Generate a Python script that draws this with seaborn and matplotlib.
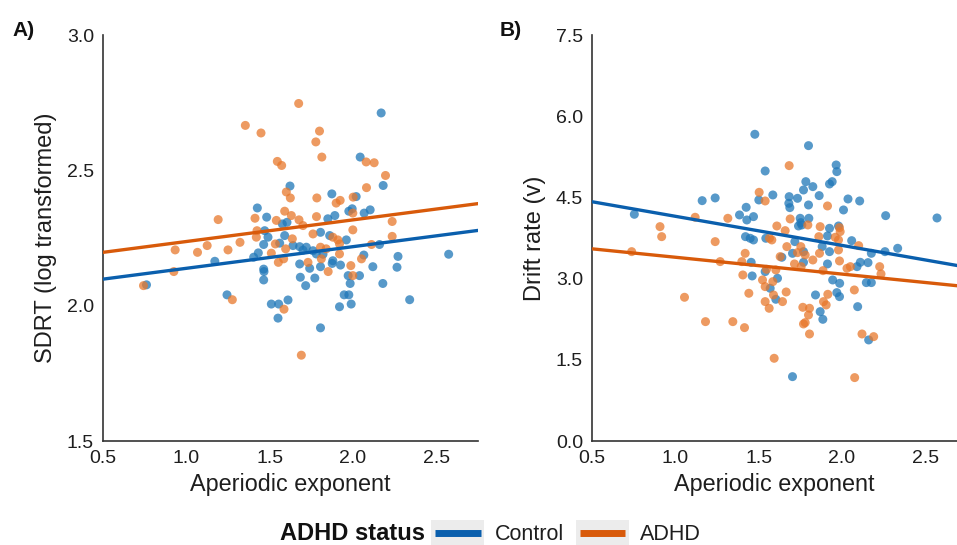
import numpy as np
import pandas as pd
import matplotlib
matplotlib.use("Agg")
import matplotlib.pyplot as plt
import seaborn as sns
from matplotlib.patches import Rectangle
from matplotlib.lines import Line2D

groups = ["Control", "ADHD"]

# Panel A: SDRT (log transformed) vs aperiodic exponent
sdrt_control_x = [2.169, 2.043, 2.181, 1.622, 1.873, 2.019, 1.995, 1.975, 2.103, 2.067, 1.426, 1.482,
                  1.891, 1.849, 1.576, 1.604, 1.470, 1.490, 1.590, 1.464, 1.560, 1.640, 1.680, 1.720,
                  1.760, 1.780, 1.805, 1.860, 1.960, 2.159, 1.432, 1.404, 1.171, 2.065, 2.270, 2.574,
                  2.264, 2.119, 1.879, 1.875, 1.925, 1.680, 1.740, 1.805, 1.464, 1.466, 1.464, 1.684,
                  1.771, 1.971, 2.039, 1.983, 1.716, 2.179, 0.761, 1.244, 1.510, 1.554, 1.610, 1.947,
                  1.975, 1.919, 1.989, 2.340, 1.550, 1.805, 1.700, 1.820]
sdrt_control_y = [2.712, 2.549, 2.444, 2.442, 2.413, 2.403, 2.358, 2.349, 2.354, 2.342, 2.361, 2.327,
                  2.333, 2.321, 2.302, 2.308, 2.277, 2.253, 2.259, 2.226, 2.231, 2.222, 2.218, 2.216,
                  2.203, 2.191, 2.271, 2.259, 2.243, 2.226, 2.195, 2.179, 2.164, 2.187, 2.182, 2.190,
                  2.142, 2.144, 2.166, 2.156, 2.150, 2.154, 2.138, 2.144, 2.135, 2.126, 2.095, 2.105,
                  2.102, 2.111, 2.111, 2.082, 2.074, 2.082, 2.077, 2.040, 2.006, 2.006, 2.021, 2.040,
                  2.040, 1.996, 2.006, 2.022, 1.954, 1.918, 2.205, 2.190]
sdrt_adhd_x = [1.674, 1.354, 1.448, 1.799, 1.777, 1.813, 1.546, 1.572, 2.079, 2.127, 2.195, 2.081,
               1.600, 1.624, 1.783, 1.899, 1.923, 2.001, 1.191, 1.412, 1.590, 1.630, 1.676, 1.540,
               1.781, 1.999, 2.235, 1.700, 1.424, 1.420, 1.999, 2.235, 1.760, 1.636, 1.879, 1.909,
               1.919, 0.933, 1.067, 1.125, 1.250, 1.322, 1.534, 1.510, 1.596, 1.805, 1.839, 1.919,
               2.051, 2.111, 1.987, 1.552, 1.584, 1.730, 1.810, 0.925, 1.851, 1.999, 0.743, 1.276,
               1.586, 1.690]
sdrt_adhd_y = [2.747, 2.666, 2.638, 2.645, 2.605, 2.549, 2.533, 2.518, 2.531, 2.528, 2.481, 2.436,
               2.420, 2.398, 2.398, 2.379, 2.389, 2.401, 2.318, 2.323, 2.349, 2.333, 2.317, 2.315,
               2.329, 2.342, 2.311, 2.296, 2.277, 2.253, 2.280, 2.256, 2.265, 2.247, 2.253, 2.243,
               2.228, 2.206, 2.197, 2.222, 2.206, 2.234, 2.228, 2.194, 2.210, 2.216, 2.210, 2.191,
               2.173, 2.226, 2.148, 2.160, 2.173, 2.160, 2.173, 2.126, 2.126, 2.111, 2.074, 2.022,
               1.987, 1.817]

# Panel B: drift rate vs aperiodic exponent
drift_control_x = [1.477, 1.799, 1.965, 1.969, 1.539, 1.783, 1.825, 1.769, 1.925, 1.941, 1.585, 1.683,
                   1.733, 1.863, 2.036, 2.106, 1.161, 1.239, 1.501, 1.681, 1.687, 1.799, 2.009, 1.425,
                   0.754, 1.385, 1.469, 1.429, 2.262, 2.570, 1.749, 1.801, 1.759, 1.739, 1.753, 1.925,
                   1.979, 1.421, 1.449, 1.469, 1.543, 1.717, 1.913, 2.058, 1.881, 2.334, 2.258, 2.176,
                   1.703, 1.769, 1.925, 1.639, 1.455, 1.769, 1.913, 2.110, 2.156, 2.090, 1.539, 1.461,
                   1.613, 1.944, 1.986, 2.146, 2.176, 1.569, 1.841, 1.969, 1.985, 1.603, 2.094, 1.869,
                   1.885, 2.160, 1.703]
drift_control_y = [5.666, 5.456, 5.099, 4.976, 4.988, 4.791, 4.699, 4.637, 4.748, 4.791, 4.545, 4.514,
                   4.483, 4.533, 4.471, 4.434, 4.440, 4.490, 4.453, 4.391, 4.311, 4.360, 4.268, 4.317,
                   4.188, 4.176, 4.145, 4.083, 4.163, 4.120, 4.114, 4.114, 3.991, 3.972, 4.034, 3.929,
                   3.972, 3.775, 3.745, 3.714, 3.745, 3.683, 3.788, 3.701, 3.591, 3.560, 3.498, 3.467,
                   3.467, 3.498, 3.498, 3.394, 3.301, 3.301, 3.271, 3.301, 3.295, 3.221, 3.129, 3.049,
                   3.006, 2.975, 2.913, 2.926, 2.926, 2.821, 2.698, 2.741, 2.667, 2.618, 2.482, 2.390,
                   2.248, 1.867, 1.189]
drift_adhd_x = [1.683, 1.503, 1.539, 1.913, 1.315, 1.119, 1.689, 0.908, 0.918, 1.609, 1.659, 1.795,
                1.869, 1.985, 1.989, 1.239, 1.579, 1.565, 1.669, 1.861, 1.959, 1.979, 2.100, 0.738,
                1.419, 1.753, 1.733, 1.779, 1.865, 1.979, 1.629, 1.825, 1.269, 1.399, 1.715, 1.755,
                1.985, 2.030, 2.050, 2.226, 2.234, 1.547, 1.603, 1.886, 1.405, 1.523, 1.585, 1.539,
                2.074, 1.441, 1.665, 1.589, 1.915, 1.055, 1.539, 1.643, 1.563, 1.889, 1.905, 1.765,
                1.805, 1.799, 1.779, 1.769, 1.181, 1.345, 1.415, 1.805, 2.120, 2.190, 1.593, 2.076]
drift_adhd_y = [5.087, 4.594, 4.434, 4.342, 4.114, 4.133, 4.102, 3.960, 3.775, 3.972, 3.886, 3.991,
                3.960, 3.942, 3.868, 3.683, 3.714, 3.745, 3.591, 3.775, 3.763, 3.714, 3.609, 3.498,
                3.467, 3.591, 3.480, 3.437, 3.467, 3.529, 3.406, 3.344, 3.314, 3.314, 3.271, 3.221,
                3.326, 3.190, 3.221, 3.221, 3.086, 3.172, 3.160, 3.147, 3.067, 2.975, 2.944, 2.852,
                2.790, 2.729, 2.753, 2.698, 2.710, 2.655, 2.575, 2.575, 2.452, 2.575, 2.513, 2.470,
                2.452, 2.328, 2.187, 2.162, 2.205, 2.205, 2.094, 1.977, 1.977, 1.928, 1.528, 1.171]

# Fitted regression lines (endpoints at x = 0.5 and 2.75)
fit_x = [0.5, 2.75]
sdrt_fit_control = [2.098, 2.278]
sdrt_fit_adhd = [2.197, 2.377]
drift_fit_control = [4.42, 3.21]
drift_fit_adhd = [3.55, 2.85]

line_colors = {"Control": "#0a5fad", "ADHD": "#d85a0a"}
point_colors = {"Control": "#1f77b8", "ADHD": "#e8782c"}


def make_points(cx, cy, ax_, ay_):
    return pd.DataFrame({
        "x": cx + ax_, "y": cy + ay_,
        "group": ["Control"] * len(cx) + ["ADHD"] * len(ax_),
    })


def make_fit(fc, fa):
    return pd.DataFrame({
        "x": fit_x + fit_x, "y": fc + fa,
        "group": ["Control"] * 2 + ["ADHD"] * 2,
    })


class KeyHandler:
    """Legend key: grey background box with an inset coloured line."""
    def legend_artist(self, legend, orig_handle, fontsize, handlebox):
        x0, y0 = handlebox.xdescent, handlebox.ydescent
        w, h = handlebox.width, handlebox.height
        bg = Rectangle((-x0, -y0), w, h, facecolor="#ececec", edgecolor="none",
                       transform=handlebox.get_transform())
        m = w * 0.07
        ln = Line2D([-x0 + m, -x0 + w - m], [-y0 + h / 2, -y0 + h / 2],
                    color=orig_handle.get_color(), lw=5, solid_capstyle="butt",
                    transform=handlebox.get_transform())
        handlebox.add_artist(bg)
        handlebox.add_artist(ln)
        return bg


sns.set_style("white")
plt.rcParams["font.family"] = ["Liberation Sans", "DejaVu Sans"]
text_c = "#1e1e1e"

fig = plt.figure(figsize=(9.57, 5.45), dpi=100)
W, H = 957, 545
axA = fig.add_axes([103 / W, (H - 441) / H, 375 / W, 406 / H])
axB = fig.add_axes([592 / W, (H - 441) / H, 365 / W, 406 / H])

panels = [
    (axA, make_points(sdrt_control_x, sdrt_control_y, sdrt_adhd_x, sdrt_adhd_y),
     make_fit(sdrt_fit_control, sdrt_fit_adhd), "SDRT (log transformed)",
     (1.5, 3.0), [1.5, 2.0, 2.5, 3.0], (0.5, 2.75)),
    (axB, make_points(drift_control_x, drift_control_y, drift_adhd_x, drift_adhd_y),
     make_fit(drift_fit_control, drift_fit_adhd), "Drift rate (v)",
     (0.0, 7.5), [0.0, 1.5, 3.0, 4.5, 6.0, 7.5], (0.5, 2.69)),
]

for ax, pts, fit, ylab, ylim, yticks, xlim in panels:
    sns.scatterplot(data=pts, x="x", y="y", hue="group", hue_order=groups,
                    palette=point_colors, s=42, alpha=0.75, linewidth=0,
                    legend=False, ax=ax, zorder=2)
    sns.lineplot(data=fit, x="x", y="y", hue="group", hue_order=groups,
                 palette=line_colors, linewidth=2.4, legend=False, ax=ax,
                 zorder=3)
    ax.set_xlim(*xlim)
    ax.set_ylim(*ylim)
    ax.set_xticks([0.5, 1.0, 1.5, 2.0, 2.5])
    ax.set_yticks(yticks)
    ax.set_xlabel("Aperiodic exponent", fontsize=16.8, color=text_c, labelpad=4)
    ax.set_ylabel(ylab, fontsize=17, color=text_c, labelpad=7)
    ax.tick_params(axis="both", labelsize=14, colors="#444444", length=3.5,
                   width=1, direction="out", labelcolor=text_c, pad=3)
    for s in ["top", "right"]:
        ax.spines[s].set_visible(False)
    for s in ["left", "bottom"]:
        ax.spines[s].set_color("#333333")
        ax.spines[s].set_linewidth(1.2)
    ax.grid(False)

fig.text(12 / W, 1 - 30 / H, "A)", fontsize=15, fontweight="bold", color="#111111",
         ha="left", va="center")
fig.text(500 / W, 1 - 30 / H, "B)", fontsize=15, fontweight="bold", color="#111111",
         ha="left", va="center")

# Legend
fig.text(352 / W, 1 - 533 / H, "ADHD status", fontsize=17, fontweight="bold",
         color="#111111", ha="center", va="center")
handles = [Line2D([], [], color=line_colors[g]) for g in groups]
fig.legend(handles=handles, labels=groups, loc="center left",
           bbox_to_anchor=(425 / W, 1 - 533 / H), ncol=2, frameon=False,
           fontsize=15.5, handlelength=2.45, handleheight=1.55, columnspacing=0.55,
           handletextpad=0.5, handler_map={Line2D: KeyHandler()},
           labelcolor="#1e1e1e", borderaxespad=0, borderpad=0.3)

fig.savefig("out.png", dpi=100)
